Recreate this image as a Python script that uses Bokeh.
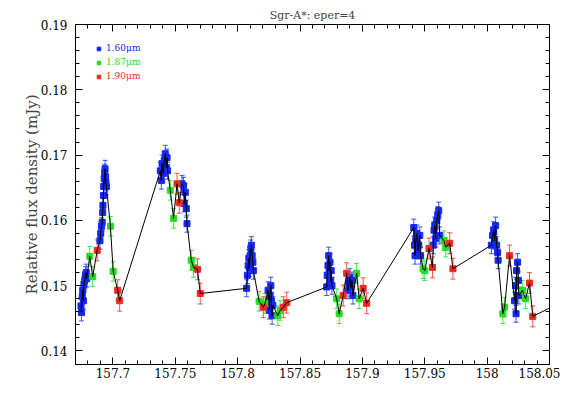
import numpy as np
from bokeh.plotting import figure
from bokeh.models import (Range1d, LinearAxis, SingleIntervalTicker, Whisker, TeeHead,
                          ColumnDataSource, Legend, LegendItem, CustomJSTickFormatter)
from bokeh.embed import file_html
from bokeh.resources import INLINE

# ---- data (time in days, relative flux density in mJy) ----
blue_t = [157.6744, 157.6748, 157.6754, 157.6758, 157.6764, 157.6768, 157.6774, 157.6780, 157.6786, 157.6790,
          157.6896, 157.6902, 157.6908, 157.6914, 157.6918, 157.6920, 157.6924, 157.6926, 157.6930, 157.6934,
          157.6937, 157.6940, 157.6944, 157.6948,
          157.7380, 157.7388, 157.7394, 157.7402, 157.7412, 157.7420, 157.7428, 157.7434, 157.7438,
          157.7554, 157.7566, 157.7572, 157.7580, 157.7588, 157.7594,
          157.8072, 157.8078, 157.8084, 157.8090, 157.8094, 157.8100, 157.8106, 157.8110, 157.8116, 157.8122, 157.8126,
          157.8244, 157.8250, 157.8254, 157.8260, 157.8266, 157.8270, 157.8276, 157.8282,
          157.8714, 157.8718, 157.8724, 157.8730, 157.8734, 157.8740, 157.8746, 157.8750, 157.8756,
          157.8884, 157.8892, 157.8900, 157.8908, 157.8916, 157.8924,
          157.9412, 157.9418, 157.9422, 157.9428, 157.9436, 157.9444, 157.9452, 157.9460, 157.9466,
          157.9568, 157.9574, 157.9580, 157.9588, 157.9596, 157.9604, 157.9612, 157.9620,
          158.0034, 158.0044, 158.0052, 158.0060, 158.0068, 158.0076, 158.0084, 158.0088,
          158.0220, 158.0228, 158.0232, 158.0236, 158.0244, 158.0250, 158.0254,
          158.0620]
blue_f = [0.1469, 0.1459, 0.1483, 0.1493, 0.1477, 0.1502, 0.1508, 0.1516, 0.1520, 0.1511,
          0.1569, 0.1580, 0.1591, 0.1597, 0.1612, 0.1623, 0.1638, 0.1652, 0.1664, 0.1673,
          0.1679, 0.1667, 0.1658, 0.1652,
          0.1676, 0.1661, 0.1687, 0.1672, 0.1692, 0.1702, 0.1681, 0.1696, 0.1676,
          0.1656, 0.1653, 0.1626, 0.1643, 0.1618, 0.1595,
          0.1496, 0.1516, 0.1531, 0.1542, 0.1527, 0.1546, 0.1557, 0.1562, 0.1546, 0.1536, 0.1523,
          0.1493, 0.1477, 0.1462, 0.1485, 0.1500, 0.1477, 0.1454, 0.1470,
          0.1498, 0.1516, 0.1531, 0.1546, 0.1523, 0.1536, 0.1508, 0.1523, 0.1500,
          0.1493, 0.1503, 0.1513, 0.1497, 0.1508, 0.1485,
          0.1589, 0.1562, 0.1546, 0.1569, 0.1580, 0.1554, 0.1562, 0.1577, 0.1546,
          0.1562, 0.1585, 0.1592, 0.1572, 0.1600, 0.1608, 0.1615, 0.1577,
          0.1562, 0.1577, 0.1585, 0.1569, 0.1592, 0.1562, 0.1551, 0.1539,
          0.1477, 0.1500, 0.1457, 0.1523, 0.1536, 0.1508, 0.1485,
          0.1477]
blue_err = 0.0013

green_t = [157.6814, 157.6838, 157.6980, 157.7002, 157.7460, 157.7486, 157.7628, 157.7646,
           157.8172, 157.8220, 157.8322, 157.8340, 157.8794, 157.8814, 157.8954, 157.8974,
           157.9486, 157.9500, 157.9654, 157.9668, 158.0126, 158.0140, 158.0282, 158.0308]
green_f = [0.1545, 0.1514, 0.1591, 0.1522, 0.1646, 0.1603, 0.1539, 0.1528,
           0.1476, 0.1473, 0.1454, 0.1462, 0.1480, 0.1457, 0.1519, 0.1480,
           0.1526, 0.1523, 0.1569, 0.1559, 0.1457, 0.1467, 0.1493, 0.1480]
green_err = 0.0015

red_t = [157.6874, 157.7038, 157.7054, 157.7514, 157.7532, 157.7678, 157.7700,
         157.8206, 157.8366, 157.8394, 157.8846, 157.8874, 157.9006, 157.9034,
         157.9534, 157.9562, 157.9700, 157.9726, 158.0180, 158.0340, 158.0366]
red_f = [0.1554, 0.1493, 0.1477, 0.1656, 0.1627, 0.1525, 0.1488,
         0.1467, 0.1467, 0.1474, 0.1485, 0.1519, 0.1496, 0.1473,
         0.1557, 0.1528, 0.1565, 0.1526, 0.1546, 0.1504, 0.1453]
red_err = 0.0016

series_labels = ["1.60\u03bcm", "1.87\u03bcm", "1.90\u03bcm"]
series_colors = ["#1428f0", "#22dd22", "#ee2a1e"]

title_text = "Sgr-A*: eper=4"
y_label = "Relative flux density (mJy)"

FONT = "DejaVu Serif"

p = figure(width=560, height=380, output_backend="svg", toolbar_location=None,
           x_range=Range1d(157.67, 158.05), y_range=Range1d(0.13793, 0.19),
           min_border_left=75, min_border_right=11, min_border_top=24, min_border_bottom=4)
p.title.text = title_text
p.title.align = "center"
p.title.text_font = FONT
p.title.text_font_size = "11px"
p.title.text_font_style = "normal"
p.title.standoff = 6
p.title.offset = 0

p.xgrid.visible = False
p.ygrid.visible = False
p.outline_line_color = "black"
p.outline_line_width = 1

xt = SingleIntervalTicker(interval=0.05, num_minor_ticks=5)
yt = SingleIntervalTicker(interval=0.01, num_minor_ticks=5)
fmt = CustomJSTickFormatter(code="return parseFloat(tick.toFixed(4)).toString();")
blank = CustomJSTickFormatter(code="return '';")

def style_axis(ax, labels=True):
    ax.major_tick_in = 7
    ax.major_tick_out = 0
    ax.minor_tick_in = 4
    ax.minor_tick_out = 0
    ax.axis_line_color = "black"
    ax.major_tick_line_color = "black"
    ax.minor_tick_line_color = "black"
    if labels:
        ax.major_label_text_font = FONT
        ax.major_label_text_font_size = "12px"
        ax.major_label_text_color = "black"
        ax.formatter = fmt
    else:
        ax.formatter = blank
        ax.major_label_standoff = 0

p.xaxis.ticker = xt
p.yaxis.ticker = yt
style_axis(p.xaxis[0])
style_axis(p.yaxis[0])
p.xaxis.major_label_standoff = 3
p.yaxis.major_label_standoff = 8
p.yaxis.axis_label = y_label
p.yaxis.axis_label_text_font = FONT
p.yaxis.axis_label_text_font_size = "15px"
p.yaxis.axis_label_text_font_style = "normal"
p.yaxis.axis_label_standoff = -3

top = LinearAxis(ticker=xt)
style_axis(top, labels=False)
p.add_layout(top, "above")
right = LinearAxis(ticker=yt)
style_axis(right, labels=False)
p.add_layout(right, "right")

renderers = []
for t, f, err, col in [(blue_t, blue_f, blue_err, series_colors[0]),
                       (green_t, green_f, green_err, series_colors[1]),
                       (red_t, red_f, red_err, series_colors[2])]:
    fa = np.array(f)
    src = ColumnDataSource(dict(t=t, f=f, lo=fa - err, hi=fa + err))
    w = Whisker(source=src, base="t", upper="hi", lower="lo", line_color=col, line_alpha=0.8,
                line_width=1,
                upper_head=TeeHead(size=5, line_color=col, line_alpha=0.8),
                lower_head=TeeHead(size=5, line_color=col, line_alpha=0.8))
    p.add_layout(w)
    r = p.scatter("t", "f", source=src, marker="square", size=6, fill_color=col, line_color=col)
    renderers.append(r)

# connecting line through all points in time order
all_t = np.array(blue_t + green_t + red_t)
all_f = np.array(blue_f + green_f + red_f)
order = np.argsort(all_t)
p.line(all_t[order], all_f[order], line_color="black", line_width=1)

for i, (lab, col, r) in enumerate(zip(series_labels, series_colors, renderers)):
    leg = Legend(items=[LegendItem(label=lab, renderers=[r])],
                 location=(19, 311 - 14 * i),
                 label_text_color=col, label_text_font=FONT, label_text_font_size="9px",
                 glyph_width=9, glyph_height=9, label_height=9, label_standoff=3,
                 padding=0, margin=0, spacing=0, border_line_alpha=0,
                 background_fill_alpha=0)
    p.add_layout(leg)

open("out.html", "w").write(file_html(p, INLINE))
